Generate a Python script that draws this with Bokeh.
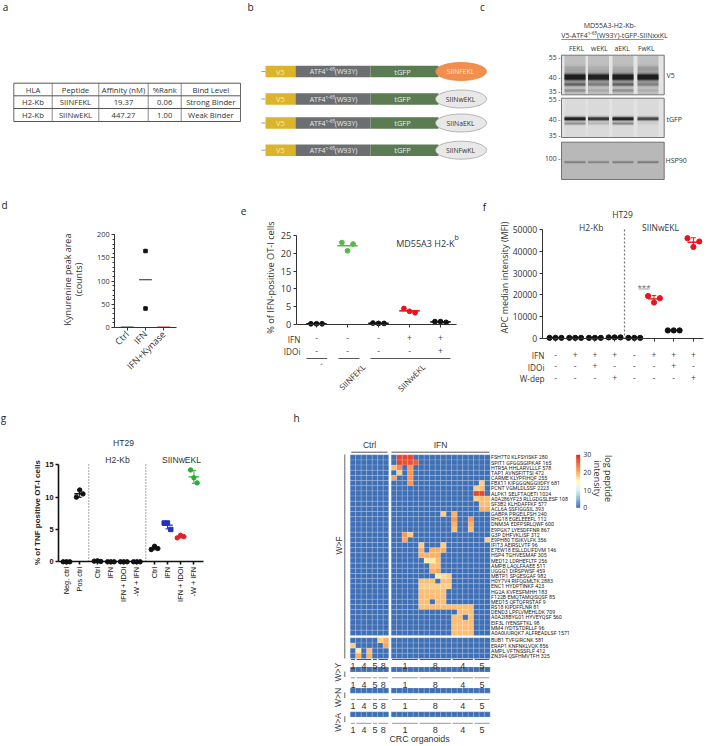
import math
import numpy as np
from bokeh.plotting import figure
from bokeh.layouts import row, column
from bokeh.models import Range1d, FixedTicker, LinearColorMapper, ColorBar, LinearAxis
from bokeh.core.properties import value
from bokeh.embed import file_html
from bokeh.resources import INLINE

# ---------- data ----------
table_header = ["HLA", "Peptide", "Affinity (nM)", "%Rank", "Bind Level"]
table_row1 = ["H2-Kb", "SIINFEKL", "19.37", "0.06", "Strong Binder"]
table_row2 = ["H2-Kb", "SIINwEKL", "447.27", "1.00", "Weak Binder"]

construct_tails = ["SIINFEKL", "SIINwEKL", "SIINaEKL", "SIINFwKL"]
blot_lanes = ["FEKL", "wEKL", "aEKL", "FwKL"]
v5_main = [1.0, 0.95, 1.0, 1.0]
v5_lower = [0.42, 0.28, 0.42, 0.25]
v5_low2 = [0.2, 0.08, 0.2, 0.06]
v5_upper = [0.1, 0.06, 0.08, 0.14]
gfp_main = [1.0, 0.8, 1.0, 0.65]
gfp_lower = [0.28, 0.12, 0.32, 0.04]
hsp_main = [0.25, 0.22, 0.25, 0.28]

d_labels = ["Ctrl", "IFN", "IFN+Kynase"]
d_ctrl = [0.5, 0.5]
d_ifn = [165, 41]
d_kyn = [0.8, 0.8]

e_ifn_row = ["-", "-", "-", "+", "+"]
e_idoi_row = ["-", "-", "-", "-", "+"]
e_g1 = [0.2, 0.2, 0.2]
e_g2 = [23.0, 20.7, 22.6]
e_g3 = [0.4, 0.3, 0.3]
e_g4 = [4.5, 3.7, 3.3]
e_g5 = [0.8, 0.8, 0.6]

f_ifn_row = ["-", "+", "+", "+", "-", "+", "+", "+"]
f_idoi_row = ["-", "-", "+", "-", "-", "-", "+", "-"]
f_wdep_row = ["-", "-", "-", "+", "-", "-", "-", "+"]
f_g1 = [300, 300, 300]
f_g2 = [300, 300, 300]
f_g3 = [300, 300, 300]
f_g4 = [500, 500, 500]
f_g5 = [300, 300, 300]
f_g6 = [19500, 16500, 18500]
f_g7 = [3700, 3700, 3700]
f_g8 = [46000, 42000, 44500]

g_labels = ["Neg. ctrl", "Pos ctrl", "Ctrl", "IFN", "IFN + IDOi", "-W + IFN",
            "Ctrl", "IFN", "IFN + IDOi", "-W + IFN"]
g_neg = [0.0, 0.0, 0.0]
g_pos = [10.0, 11.1, 10.5]
g_h_ctrl = [0.1, 0.15, 0.05]
g_h_ifn = [0.0, 0.0, 0.0]
g_h_ido = [0.0, 0.0, 0.0]
g_h_w = [0.0, 0.0, 0.0]
g_s_ctrl = [1.9, 2.4, 2.05]
g_s_ifn = [6.0, 6.0, 5.0]
g_s_ido = [3.7, 4.1, 3.9]
g_s_w = [14.2, 13.0, 12.2]

peptides_wf = [
    "FSH7T0 KLFSYISKF 280", "SPIT1 GFGGSGIPKAF 165", "HTR5A HHLARVLLLF 578", "TAP1 AVNSFITTSI 472",
    "CARME KLYPFIHQF 255", "FBX11 KIFGGGNGGIIDFY 681", "PCNT VGMLDLSSF 2223", "ALPK1 SELFTAQETI 1024",
    "A0A286YF23 RLLGDGSLESF 108", "SF3B2 KLHDAFFKF 577", "ACL6A SSFIGGSIL 393", "GABPA PRGEILFSH 240",
    "RHG18 EGELEEEFL 112", "DNM3A EDFPSRLQWF 600", "E9PGK7 LYESDFFNR 867", "G3P DHFVKLISF 312",
    "E9PH80 TISIKVLFK 356", "IFIT3 AEIRSLVTF 96", "E7EW18 ESLLDLIFDVM 146", "HSP4 TGHVESMAF 305",
    "MED12 LDRHEFLTF 256", "AMPB LAQLFAAEE 511", "UGGG1 DIRSPWSF 459", "MBTP1 SPGESGAF 982",
    "H0Y7V4 RIFQGMLTK 2883", "ENC1 HYDPTINKF 423", "HG2A KVFESFMHH 183", "F122B EMQTAMQISQSF 85",
    "MED15 QFTQFRSTAF 9", "RS18 KIPDFFLNR 81", "DEND3 LPFLVMEHLDK 709", "A0A2I8BYG01 HYVEYQSF 560",
    "EIF3L IYENSFTKL 98", "MM4 IYDTSTDRLLF 96", "A0A0UURQK7 ALFREADLSF 1571",
]
peptides_lower = ["BUB1 TVFGIRCNK 581", "ERAP1 KNFNKLVQK 856", "AMPL VFTNSSFLF 412", "ZN394 QSFHMVTFH 325"]
# non-zero IFN cells of the W>F block: row -> {column: log intensity}
wf_ifn_hits = {
    0: {1: 28, 2: 28, 3: 28}, 1: {1: 28, 2: 27, 3: 27, 4: 26}, 2: {0: 19, 1: 23, 3: 22}, 3: {1: 18, 3: 22},
    4: {0: 21, 3: 22}, 5: {3: 22, 16: 18}, 6: {15: 18, 16: 19}, 7: {15: 28, 16: 28},
    8: {15: 18, 16: 19, 17: 19}, 9: {16: 19, 17: 19}, 10: {16: 20, 17: 20}, 11: {9: 18, 11: 20},
    12: {11: 22, 14: 22}, 13: {11: 20, 14: 20}, 14: {11: 19, 14: 19}, 15: {2: 22, 3: 18},
    16: {2: 21, 17: 18}, 17: {5: 18, 9: 18}, 18: {5: 20, 7: 20, 8: 20, 9: 20}, 19: {5: 20, 6: 20, 7: 20, 8: 20},
    20: {6: 16, 7: 16, 8: 19}, 21: {7: 19, 8: 19}, 22: {7: 20, 8: 21}, 23: {8: 16, 9: 17, 10: 18},
    24: {5: 19, 6: 19, 7: 19, 9: 19, 10: 19}, 25: {5: 18, 6: 18, 7: 18, 8: 18, 9: 18, 10: 18},
    26: {5: 19, 6: 19, 7: 19, 8: 19, 9: 19}, 27: {5: 19, 6: 19, 7: 19, 8: 19, 9: 19},
    28: {5: 19, 6: 19, 8: 19, 9: 19},
    29: {5: 19, 6: 19, 7: 19, 8: 19, 9: 19, 10: 19, 11: 19, 12: 19, 13: 19, 14: 19},
    30: {12: 19, 13: 19, 14: 19}, 31: {11: 19, 12: 19, 14: 19}, 32: {11: 19, 12: 19, 13: 19, 14: 19},
    33: {11: 19, 12: 19, 13: 19, 14: 19}, 34: {11: 19, 12: 19, 13: 19, 14: 19},
}
lower_ctrl_hits = {0: {5: 18, 6: 20}, 1: {0: 18, 6: 21}, 2: {1: 16, 3: 19}, 3: {1: 20, 3: 20}}
ctrl_groups = [("1", 0, 1), ("4", 1, 4), ("5", 4, 5), ("8", 5, 7)]
ifn_groups = [("1", 0, 5), ("8", 5, 11), ("4", 11, 15), ("5", 15, 18)]
heat_colors = ["#3f6fb5", "#8fbbdc", "#e0f3f8", "#ffffbf", "#fdae61", "#f46d43", "#d73027"]

# ---------- helpers ----------
SANS = "Open Sans"
ARIAL = "Liberation Sans"
DARK = "#333333"


class Panel:
    """A figure plus the page-pixel to data conversions used for its annotations."""

    def __init__(self, fig, X, Y):
        self.fig, self.X, self.Y = fig, X, Y

    def __getattr__(self, name):
        return getattr(self.fig, name)


def panel(left, top, w, h, x0, xper, y0, yper):
    X = lambda px: (px - x0) / xper
    Y = lambda py: (y0 - py) / yper
    p = figure(width=w, height=h, toolbar_location=None, output_backend="svg",
               x_range=Range1d(X(left), X(left + w)), y_range=Range1d(Y(top + h), Y(top)),
               min_border=0, min_border_left=0, min_border_right=0, min_border_top=0, min_border_bottom=0,
               tools="", outline_line_color=None, background_fill_color=None, border_fill_color=None)
    p.grid.visible = False
    p.axis.visible = False
    return Panel(p, X, Y)


def txt(p, px, py, s, size=8, color=DARK, font=SANS, align="center", base="middle", angle=0, style="normal"):
    p.text(x=[p.X(px)], y=[p.Y(py)], text=[s], text_font=value(font), text_font_size=f"{size}px",
           text_color=color, text_align=align, text_baseline=base, angle=angle, text_font_style=style)


def seg(p, x1, y1, x2, y2, color=DARK, width=1.0, dash="solid"):
    p.segment(x0=[p.X(x1)], y0=[p.Y(y1)], x1=[p.X(x2)], y1=[p.Y(y2)], line_color=color, line_width=width,
              line_dash=dash)


def box(p, l, t, r, b, color, alpha=1.0, line=None, lw=0):
    p.quad(left=[p.X(l)], right=[p.X(r)], top=[p.Y(t)], bottom=[p.Y(b)], fill_color=color, fill_alpha=alpha,
           line_color=line, line_width=lw)


def axes(p, xticks, xbounds, yticks, ybounds, color=DARK, width=1.0, size=8, font=SANS, xlabels=None,
         minor=0, ystyle="normal", orient=None, tick=3, xsize=None):
    xa = LinearAxis(ticker=FixedTicker(ticks=xticks), fixed_location=ybounds[0], bounds=xbounds)
    ya = LinearAxis(fixed_location=xbounds[0], bounds=ybounds)
    if minor:
        ya.ticker = FixedTicker(ticks=yticks, minor_ticks=minor)
    else:
        ya.ticker = FixedTicker(ticks=yticks)
    xa.major_label_overrides = {t: (xlabels[i] if xlabels else "") for i, t in enumerate(xticks)}
    if orient is not None:
        xa.major_label_orientation = orient
    for a in (xa, ya):
        a.axis_line_color = color
        a.axis_line_width = width
        a.major_tick_line_color = color
        a.major_tick_line_width = width
        a.major_tick_out = tick
        a.major_tick_in = 0
        a.minor_tick_line_color = color if minor else None
        a.minor_tick_out = 2
        a.minor_tick_in = 0
        a.major_label_text_font = font
        a.major_label_text_font_size = f"{size}px"
        a.major_label_text_color = color
        a.major_label_standoff = 2
    xa.minor_tick_line_color = None
    ya.major_label_text_font_style = ystyle
    if xsize:
        xa.major_label_text_font_size = f"{xsize}px"
    p.add_layout(xa, "below")
    p.add_layout(ya, "left")


def dots(p, gx, vals, color, spread, half, size=5.0, marker="circle", sd=False, bar_w=1.5):
    n = len(vals)
    xs = [gx + spread * (i - (n - 1) / 2) for i in range(n)]
    p.scatter(x=xs, y=vals, size=size, color=color, marker=marker)
    m = float(np.mean(vals))
    p.segment(x0=[gx - half], x1=[gx + half], y0=[m], y1=[m], line_color=color, line_width=bar_w)
    if sd:
        s = float(np.std(vals, ddof=1))
        p.segment(x0=[gx], x1=[gx], y0=[m - s], y1=[m + s], line_color=color, line_width=1)
        for v in (m - s, m + s):
            p.segment(x0=[gx - half * .4], x1=[gx + half * .4], y0=[v], y1=[v], line_color=color, line_width=1)


# ---------- a: table ----------
pa = panel(0, 0, 245, 190, 0, 1, 0, -1)
txt(pa, 5, 6, "a", 10, "#222")
col_edges = [13.3, 51.7, 98.3, 147.7, 180.7, 240]
row_edges = [82.7, 95.3, 108, 121]
for i, e in enumerate(col_edges):
    seg(pa, e, row_edges[0], e, row_edges[-1], "#666" if i in (0, 5) else "#8a8a8a", 1)
for e in row_edges:
    seg(pa, col_edges[0], e, col_edges[-1], e, "#555", 1)
for r, rowvals in enumerate([table_header, table_row1, table_row2]):
    for c, s in enumerate(rowvals):
        txt(pa, (col_edges[c] + col_edges[c + 1]) / 2, (row_edges[r] + row_edges[r + 1]) / 2 + .3, s, 7.7, "#333")

# ---------- b: constructs ----------
pb = panel(245, 0, 250, 190, 0, 1, 0, -1)
txt(pb, 250, 6, "b", 10, "#222")
for i, (cy, tail) in enumerate(zip([71, 98.5, 122.5, 149.7], construct_tails)):
    seg(pb, 261, cy, 265, cy, "#999", 1)
    box(pb, 265, cy - 5.7, 295, cy + 5.7, "#dcb42c")
    box(pb, 295, cy - 5.7, 370, cy + 5.7, "#6c6e72")
    box(pb, 370, cy - 5.7, 438, cy + 5.7, "#5b7b52")
    orange = i == 0
    pb.ellipse(x=[460.5], y=[pb.Y(cy)], width=51, height=18, fill_color="#f28f4e" if orange else "#e8e8e8",
               line_color="#e07a35" if orange else "#9a9a9a", line_width=.7)
    txt(pb, 280, cy, "V5", 7.5, "#f5e9b5")
    txt(pb, 333, cy + .3, "ATF4\u00b9\u207b\u2076\u2075(W93Y)", 7, "#e8e8e8")
    txt(pb, 402, cy, "tGFP", 7.5, "#e6ece2")
    txt(pb, 460, cy, tail, 6.8, "#fbe3d2" if orange else "#333")
txt(pb, 482, 6, "c", 10, "#222")

# ---------- c: western blots ----------
pc = panel(495, 0, 212, 190, 0, 1, 0, -1)
txt(pc, 609.3, 25, "MD55A3-H2-Kb-", 7, "#333")
txt(pc, 614, 35, "V5-ATF4\u00b9\u207b\u2076\u2075(W93Y)-tGFP-SIINxxKL", 7, "#333")
seg(pc, 560.7, 39, 663, 39, "#777", .8)
lanes_px = [574.5, 598, 622.5, 647.5]
for lx, s in zip([576, 599, 621.7, 645.7], blot_lanes):
    txt(pc, lx, 48, s, 6.8, "#333")
for (t, b, bg, smear) in [(54.7, 94.3, "#e4e4e4", .16), (97.7, 137, "#e2e2e2", .03), (141.7, 179, "#b8b8b8", 0)]:
    box(pc, 561, t, 663.7, b, bg, line="#666", lw=.9)
    if smear:
        for lx in lanes_px:
            box(pc, lx - 10.5, t + .6, lx + 10.5, b - .6, "#000000", alpha=smear)


def bands(ys, strengths, height, width=21):
    for lx, st in zip(lanes_px, strengths):
        for scale, al in [(2.6, .08), (2.0, .12), (1.5, .2), (1.15, .3), (.85, .65)]:
            box(pc, lx - width / 2, ys - height * scale / 2, lx + width / 2, ys + height * scale / 2, "#000000",
                alpha=st * al)


bands(68, v5_upper, 4)
bands(84, v5_lower, 2.4)
bands(90, v5_low2, 2.2)
bands(76.7, v5_main, 5.5)
bands(118.3, gfp_main, 2.8)
bands(123, gfp_lower, 2)
bands(161.7, hsp_main, 1.6)
for (py, s) in [(57, "55 -"), (77, "40 -"), (91, "35 -"), (99, "55 -"), (119, "40 -"), (135, "35 -"), (158, "100 -")]:
    txt(pc, 560, py, s, 6.8, "#333", align="right")
txt(pc, 666, 75, "V5", 7, "#333", align="left")
txt(pc, 666, 119, "tGFP", 7, "#333", align="left")
txt(pc, 665, 160, "HSP90", 7, "#333", align="left")

# ---------- d ----------
pd_ = panel(0, 190, 235, 210, 126.7, 18.3, 327, 0.4635)
txt(pd_, 4, 204, "d", 10, "#222")
axes(pd_, [0, 1, 2], (pd_.X(114.3), pd_.X(175.7)), [0, 50, 100, 150, 200], (0, 200), color="#333", size=7.4,
     xlabels=d_labels, minor=[10 * i for i in range(21)], orient=math.pi / 4, xsize=9.2)
txt(pd_, 66.7, 279, "Kynurenine peak area", 9, "#333", angle=math.pi / 2)
txt(pd_, 78.3, 279, "(counts)", 9, "#333", angle=math.pi / 2)
pd_.segment(x0=[-.35], x1=[.35], y0=[np.mean(d_ctrl)], y1=[np.mean(d_ctrl)], line_color="#444", line_width=1.3)
pd_.scatter(x=[1, 1], y=d_ifn, marker="square", size=3.5, color="#111")
pd_.segment(x0=[.65], x1=[1.35], y0=[np.mean(d_ifn)], y1=[np.mean(d_ifn)], line_color="#222", line_width=1)
pd_.segment(x0=[1.65], x1=[2.35], y0=[np.mean(d_kyn)], y1=[np.mean(d_kyn)], line_color="#c0392b", line_width=1.5)

# ---------- e ----------
pe = panel(235, 190, 235, 210, 316, 31, 324, 3.56)
txt(pe, 243, 210, "e", 10, "#222")
axes(pe, [0, 1, 2, 3, 4], (pe.X(295.7), pe.X(456)), [0, 5, 10, 15, 20, 25], (0, 25), color="#333", size=9.2)
txt(pe, 270, 277, "% of IFN-positive OT-I cells", 9.2, "#333", angle=math.pi / 2)
for i, (vals, col) in enumerate([(e_g1, "#111"), (e_g2, "#56b84a"), (e_g3, "#111"), (e_g4, "#e8141c"), (e_g5, "#111")]):
    dots(pe, i, vals, col, 0.18, 0.33, size=4.8, bar_w=1.6)
txt(pe, 395.7, 242.7, "MD55A3 H2-K", 9, "#333", align="left")
txt(pe, 454, 237, "b", 7, "#333", align="left")
txt(pe, 300, 339, "IFN", 8.2, "#333", align="right")
txt(pe, 300, 351, "IDOi", 8.2, "#333", align="right")
for i, (a, b) in enumerate(zip(e_ifn_row, e_idoi_row)):
    txt(pe, 316 + 31 * i, 337, a, 8.5, "#444")
    txt(pe, 316 + 31 * i, 349.5, b, 8.5, "#444")
for (l, r) in [(306, 326.7), (338, 359), (370, 450)]:
    seg(pe, l, 358, r, 358, "#444", .9)
txt(pe, 320, 361, "-", 8, "#333", align="right", base="top", angle=math.pi / 4)
txt(pe, 359, 361, "SIINFEKL", 8, "#333", align="right", base="top", angle=math.pi / 4)
txt(pe, 419, 361, "SIINwEKL", 8, "#333", align="right", base="top", angle=math.pi / 4)

# ---------- f ----------
pf = panel(470, 190, 237, 210, 555, 19.7, 338, 0.00218)
txt(pf, 484, 206, "f", 10, "#222")
axes(pf, list(range(8)), (pf.X(541.7), pf.X(703)), [0, 10000, 20000, 30000, 40000, 50000], (0, 50000), color="#333",
     size=8.6)
txt(pf, 504, 277, "APC median intensity (MFI)", 9, "#333", angle=math.pi / 2)
txt(pf, 622, 214, "HT29", 8.5, "#333")
txt(pf, 590.7, 227, "H2-Kb", 8.5, "#333")
txt(pf, 660, 227, "SIINwEKL", 8.5, "#333")
seg(pf, 624, 229, 624, 338, "#777", 1.2, "2 2")
for i, (vals, col, sd) in enumerate([(f_g1, "#111", 0), (f_g2, "#111", 0), (f_g3, "#111", 0), (f_g4, "#111", 0),
                                     (f_g5, "#111", 0), (f_g6, "#e8141c", 1), (f_g7, "#111", 0), (f_g8, "#e8141c", 1)]):
    dots(pf, i, vals, col, 0.3, 0.3, size=5.2, bar_w=1.4, sd=bool(sd))
txt(pf, 643.5, 286, "***", 8, "#666")
seg(pf, 638, 288.5, 649, 288.5, "#888", .8)
for py, s, r in [(355, "IFN", f_ifn_row), (366.7, "IDOi", f_idoi_row), (378, "W-dep", f_wdep_row)]:
    txt(pf, 544, py, s, 8.2, "#333", align="right")
    for i, v in enumerate(r):
        txt(pf, 555 + 19.7 * i, py - 1.3, v, 8.5, "#444")

# ---------- g ----------
g_pos_x = [0, 1, 2.35, 3.36, 4.34, 5.33, 6.67, 7.65, 8.64, 9.65]
pg = panel(0, 400, 280, 346, 66, 13.2, 561.3, 6.467)
txt(pg, 3, 417, "g", 10, "#222")
axes(pg, g_pos_x, (pg.X(58), pg.X(203)), [0, 5, 10, 15], (0, 15), color="#111", width=1.6, size=7.4, font=ARIAL,
     xlabels=g_labels, orient=math.pi / 2, ystyle="bold")
txt(pg, 37, 511, "% of TNF  positive OT-I cells", 8, "#222", font=ARIAL, angle=math.pi / 2, style="bold")
txt(pg, 123, 442, "HT29", 8.6, "#333", font=ARIAL)
txt(pg, 117, 459, "H2-Kb", 8.6, "#333", font=ARIAL)
txt(pg, 181, 459, "SIINwEKL", 8.6, "#333", font=ARIAL)
seg(pg, 88.3, 464, 88.3, 561, "#222", .8, "1 2")
seg(pg, 145.3, 464, 145.3, 561, "#222", .8, "1 2")
g_series = [(g_neg, "#111", "circle"), (g_pos, "#111", "circle"), (g_h_ctrl, "#111", "circle"), (g_h_ifn, "#111", "circle"),
            (g_h_ido, "#111", "circle"), (g_h_w, "#111", "circle"), (g_s_ctrl, "#111", "circle"), (g_s_ifn, "#2230c0", "square"),
            (g_s_ido, "#e0202a", "circle"), (g_s_w, "#28b030", "circle")]
for gx, (vals, col, mk) in zip(g_pos_x, g_series):
    dots(pg, gx, vals, col, 0.25, 0.4, size=4.4, marker=mk, sd=True, bar_w=1.4)

# ---------- h ----------
CELL_W, CELL_H = 5.5, 5.16
IFN_OFF = 7.45
N_IFN = 18
ph = panel(280, 400, 427, 346, 349.7, CELL_W, 454.3, -CELL_H)
txt(ph, 296, 417, "h", 10, "#222")
mapper = LinearColorMapper(palette=[
    "#%02x%02x%02x" % tuple(int(round(np.interp(t, np.linspace(0, 1, 7), [int(c[i:i + 2], 16) for c in heat_colors])))
                            for i in (1, 3, 5)) for t in np.linspace(0, 1, 64)], low=0, high=30)

wf_matrix = np.zeros((len(peptides_wf), 7 + N_IFN))
for r, d in wf_ifn_hits.items():
    for c, v in d.items():
        wf_matrix[r, 7 + c] = v
low_matrix = np.zeros((len(peptides_lower), 7 + N_IFN))
for r, d in lower_ctrl_hits.items():
    for c, v in d.items():
        low_matrix[r, c] = v


def col_x(c):
    return c + .5 if c < 7 else c - 7 + IFN_OFF + .5


def cells(matrix, top_row):
    xs, ys, vs = [], [], []
    for r in range(matrix.shape[0]):
        for c in range(matrix.shape[1]):
            xs.append(col_x(c))
            ys.append(top_row + r + .5)
            vs.append(float(matrix[r, c]))
    ph.rect(x="x", y="y", width=1, height=1, source=dict(x=xs, y=ys, v=vs),
            fill_color={"field": "v", "transform": mapper}, line_color="#ffffff", line_alpha=.28, line_width=.6)


cells(wf_matrix, 0)
LOW_ROW = 35.47
cells(low_matrix, LOW_ROW)
strip_tops = [41.1, 45.2, 49.8]
for st in strip_tops:
    cells(np.zeros((1, 7 + N_IFN)), st)

PEP_FONT = "Roboto"
for r, s in enumerate(peptides_wf):
    ph.text(x=[IFN_OFF + N_IFN + .15], y=[r + .5], text=[s], text_font=value(PEP_FONT), text_font_size="5.3px",
            text_color="#222", text_baseline="middle")
for r, s in enumerate(peptides_lower):
    ph.text(x=[IFN_OFF + N_IFN + .15], y=[LOW_ROW + r + .5], text=[s], text_font=value(PEP_FONT), text_font_size="5.3px",
            text_color="#222", text_baseline="middle")

txt(ph, 369, 444, "Ctrl", 8.5, "#333", font=ARIAL)
txt(ph, 440, 444, "IFN", 8.5, "#333", font=ARIAL)
seg(ph, 350.7, 451.7, 387, 451.7, "#444", .9)
seg(ph, 391, 451.7, 489, 451.7, "#444", .9)
seg(ph, 344.3, 454, 344.3, 658, "#555", .9)
txt(ph, 338.7, 545, "W>F", 8.5, "#333", font=ARIAL, angle=math.pi / 2)
for (cy, s, l) in [(671.7, "W>Y", (671, 676.5)), (697, "W>N", (692, 697.5)), (722, "W>A", (715.7, 721.5))]:
    txt(ph, 337, cy, s, 8.5, "#333", font=ARIAL, angle=math.pi / 2)
    seg(ph, 344.3, l[0], 344.3, l[1], "#555", .9)
for bar_y, num_y, colr in [(659, 665.7, "#555"), (677.3, 684, "#999"), (699, 705, "#999"), (722.8, 729, "#999")]:
    for groups, off in [(ctrl_groups, 0), (ifn_groups, IFN_OFF)]:
        for name, a, b in groups:
            ph.segment(x0=[off + a + .15], x1=[off + b - .15], y0=[ph.Y(bar_y)], y1=[ph.Y(bar_y)], line_color=colr,
                       line_width=1)
            ph.text(x=[off + (a + b) / 2], y=[ph.Y(num_y)], text=[name], text_font=value(ARIAL), text_font_size="9px",
                    text_color="#333", text_align="center", text_baseline="middle")
txt(ph, 419, 738, "CRC organoids", 8.8, "#333", font=ARIAL)
cb = ColorBar(color_mapper=mapper, location=(575.7 - 280, 746 - 507.3), width=4, height=53, padding=0, margin=0,
              ticker=FixedTicker(ticks=[0, 5, 10, 15, 20, 25, 30]), major_label_text_font_size="7px",
              major_label_text_font=SANS, major_label_text_color="#333", major_tick_line_color=None,
              bar_line_color=None, label_standoff=3, background_fill_color=None, border_line_color=None)
ph.add_layout(cb, "center")
txt(ph, 608, 478, "log peptide", 9, "#333", angle=-math.pi / 2)
txt(ph, 597, 478, "intensity", 9, "#333", angle=-math.pi / 2)

page = column(
    row(pa.fig, pb.fig, pc.fig, spacing=0),
    row(pd_.fig, pe.fig, pf.fig, spacing=0),
    row(pg.fig, ph.fig, spacing=0),
    spacing=0,
)
open("out.html", "w").write(file_html(page, INLINE))
